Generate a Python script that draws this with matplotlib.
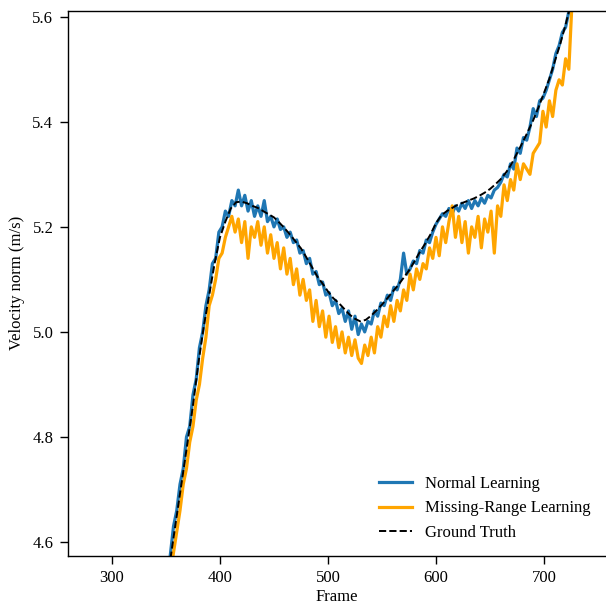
import matplotlib
matplotlib.use("Agg")
import matplotlib.pyplot as plt
import numpy as np

plt.rcParams['font.family'] = ['Liberation Serif', 'DejaVu Serif']
plt.rcParams['font.size'] = 12

# --- data ---
gt_frames = [350, 355, 360, 365, 370, 375, 380, 385, 390, 395, 400, 405, 410, 415,
             420, 425, 430, 435, 440, 445, 450, 455, 460, 465, 470, 475, 480, 485,
             490, 495, 500, 505, 510, 515, 520, 525, 530, 535, 540, 545, 550, 555,
             560, 565, 570, 575, 580, 585, 590, 595, 600, 605, 610, 615, 620, 625,
             630, 635, 640, 645, 650, 655, 660, 665, 670, 675, 680, 685, 690, 695,
             700, 705, 710, 715, 720, 725, 730]
gt_values = [4.51, 4.58, 4.65, 4.72, 4.79, 4.86, 4.94, 5.01, 5.07, 5.13, 5.18, 5.21,
             5.235, 5.247, 5.248, 5.245, 5.240, 5.236, 5.230, 5.224, 5.218, 5.208,
             5.197, 5.185, 5.172, 5.159, 5.142, 5.124, 5.106, 5.092, 5.077, 5.064,
             5.055, 5.044, 5.033, 5.025, 5.020, 5.023, 5.031, 5.041, 5.052, 5.064,
             5.077, 5.089, 5.103, 5.117, 5.134, 5.152, 5.168, 5.186, 5.207, 5.222,
             5.230, 5.236, 5.242, 5.246, 5.250, 5.254, 5.259, 5.265, 5.272, 5.281,
             5.291, 5.304, 5.320, 5.340, 5.360, 5.381, 5.403, 5.428, 5.455, 5.482,
             5.515, 5.548, 5.585, 5.625, 5.67]

frames = list(range(354, 727, 3))

normal = [4.575, 4.63, 4.66, 4.71, 4.74, 4.80, 4.82, 4.88, 4.91, 4.97, 5.00, 5.05,
          5.08, 5.13, 5.14, 5.19, 5.20, 5.23, 5.22, 5.25, 5.24, 5.27, 5.24, 5.26,
          5.23, 5.25, 5.22, 5.24, 5.22, 5.25, 5.21, 5.22, 5.20, 5.215, 5.195, 5.20,
          5.18, 5.19, 5.17, 5.175, 5.15, 5.155, 5.13, 5.14, 5.11, 5.115, 5.09, 5.095,
          5.07, 5.075, 5.05, 5.06, 5.035, 5.045, 5.02, 5.04, 5.005, 5.03, 4.995, 5.015,
          5.00, 5.02, 5.015, 5.04, 5.03, 5.055, 5.05, 5.07, 5.06, 5.085, 5.08, 5.10,
          5.15, 5.11, 5.12, 5.135, 5.13, 5.155, 5.15, 5.175, 5.17, 5.19, 5.205, 5.215,
          5.225, 5.22, 5.235, 5.225, 5.24, 5.23, 5.245, 5.235, 5.25, 5.235, 5.25, 5.24,
          5.255, 5.245, 5.26, 5.255, 5.27, 5.275, 5.285, 5.30, 5.295, 5.32, 5.31, 5.35,
          5.34, 5.37, 5.365, 5.39, 5.425, 5.41, 5.44, 5.445, 5.46, 5.48, 5.50, 5.53,
          5.545, 5.57, 5.58, 5.61, 5.635]

missing = [4.54, 4.58, 4.62, 4.66, 4.71, 4.74, 4.79, 4.82, 4.87, 4.90, 4.95, 4.99,
           5.05, 5.07, 5.10, 5.14, 5.15, 5.18, 5.20, 5.22, 5.19, 5.215, 5.17, 5.21,
           5.14, 5.20, 5.18, 5.21, 5.165, 5.20, 5.15, 5.185, 5.14, 5.17, 5.12, 5.16,
           5.11, 5.14, 5.09, 5.12, 5.07, 5.10, 5.06, 5.08, 5.02, 5.06, 5.01, 5.04,
           4.99, 5.03, 4.98, 5.01, 4.97, 5.00, 4.96, 4.99, 4.955, 4.985, 4.95, 4.94,
           4.975, 4.955, 4.99, 4.96, 5.01, 4.99, 5.03, 5.01, 5.05, 5.02, 5.06, 5.04,
           5.08, 5.06, 5.11, 5.08, 5.12, 5.10, 5.13, 5.12, 5.16, 5.14, 5.18, 5.145,
           5.20, 5.17, 5.21, 5.24, 5.18, 5.22, 5.17, 5.21, 5.15, 5.20, 5.18, 5.22,
           5.16, 5.215, 5.19, 5.23, 5.15, 5.24, 5.22, 5.28, 5.25, 5.29, 5.27, 5.32,
           5.29, 5.32, 5.31, 5.30, 5.34, 5.35, 5.36, 5.42, 5.39, 5.44, 5.41, 5.46,
           5.48, 5.47, 5.52, 5.50, 5.63]

x_ticks = [300, 400, 500, 600, 700]
y_ticks = [4.6, 4.8, 5.0, 5.2, 5.4, 5.6]

fig = plt.figure(figsize=(6.06, 6.08), dpi=100)
ax = fig.add_axes([0.1122, 0.086, 0.8878, 0.896])

ax.plot(frames, normal, color='#1f77b4', linewidth=2.3, label='Normal Learning')
ax.plot(frames, missing, color='orange', linewidth=2.3, label='Missing-Range Learning')
ax.plot(gt_frames, gt_values, color='black', linestyle='--', linewidth=1.4,
        label='Ground Truth')

ax.set_xlim(259.3, 757.4)
ax.set_ylim(4.574, 5.611)
ax.set_xticks(x_ticks)
ax.set_yticks(y_ticks)
ax.tick_params(length=5.5, width=1.0, pad=5)
ax.set_xlabel('Frame', labelpad=2)
ax.set_ylabel('Velocity norm (m/s)', labelpad=5)
ax.spines['right'].set_visible(False)
for side in ['left', 'bottom', 'top']:
    ax.spines[side].set_linewidth(1.0)

ax.legend(loc='lower right', frameon=False)

plt.savefig('out.png', dpi=100)
plt.close()
